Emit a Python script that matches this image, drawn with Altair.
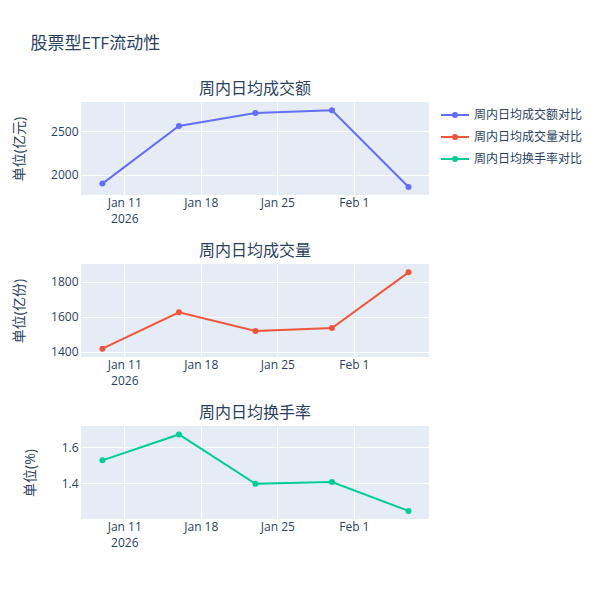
import altair as alt
import pandas as pd

FONT = "'Open Sans', 'Noto Sans CJK SC', sans-serif"
INK = "#2a3f5f"

dates = ["2026-01-09", "2026-01-16", "2026-01-23", "2026-01-30", "2026-02-06"]
amount = [1895, 2563, 2712, 2744, 1855]       # 亿元
volume = [1417, 1626, 1518, 1535, 1855]       # 亿份
turnover = [1.528, 1.672, 1.398, 1.408, 1.247]  # %

series = ["周内日均成交额对比", "周内日均成交量对比", "周内日均换手率对比"]
colors = ["#636efa", "#EF553B", "#00cc96"]
panel_titles = ["周内日均成交额", "周内日均成交量", "周内日均换手率"]
y_titles = ["单位(亿元)", "单位(亿份)", "单位(%)"]
y_ticks = [[2000, 2500], [1400, 1600, 1800], [1.4, 1.6]]
y_formats = ["d", "d", ".1f"]
y_domains = [[1763, 2840], [1369, 1903], [1.202, 1.719]]

x_ticks = [alt.DateTime(year=2026, month=1, date=11),
           alt.DateTime(year=2026, month=1, date=18),
           alt.DateTime(year=2026, month=1, date=25),
           alt.DateTime(year=2026, month=2, date=1)]
x_domain = [alt.DateTime(year=2026, month=1, date=7, hours=1),
            alt.DateTime(year=2026, month=2, date=7, hours=21)]

# path: short line + tiny circle, looks like plotly's line+marker legend item
LEGEND_SYMBOL = ("M-1,0L1,0M-0.143,0A0.143,0.143,0,1,0,0.143,0"
                 "A0.143,0.143,0,1,0,-0.143,0")


def panel(values, i):
    df = pd.DataFrame({
        "date": [d + "T00:00:00" for d in dates],
        "value": values,
        "series": series[i],
    })
    x = alt.X("date:T", title=None,
              scale=alt.Scale(domain=x_domain),
              axis=alt.Axis(values=x_ticks, grid=True, gridColor="white",
                            ticks=False, domain=False, labelPadding=2,
                            labelLineHeight=16, labelFontSize=12,
                            labelColor=INK, labelFont=FONT,
                            labelExpr="datum.index == 0 ? [timeFormat(datum.value, '%b %-d'), '2026'] : timeFormat(datum.value, '%b %-d')"))
    y = alt.Y("value:Q", title=y_titles[i],
              scale=alt.Scale(domain=y_domains[i], zero=False, nice=False),
              axis=alt.Axis(values=y_ticks[i], format=y_formats[i], grid=True,
                            gridColor="white", ticks=False, domain=False,
                            labelPadding=3, labelFontSize=12, labelColor=INK,
                            labelFont=FONT, titleFontSize=14, titleColor=INK,
                            titleFont=FONT, titleFontWeight="normal",
                            titlePadding=24))
    color = alt.Color("series:N", scale=alt.Scale(domain=series, range=colors),
                      legend=alt.Legend(title=None, symbolType=LEGEND_SYMBOL,
                                        symbolSize=784, symbolStrokeWidth=2,
                                        labelFontSize=12, labelColor=INK,
                                        labelFont=FONT, rowPadding=-4.5,
                                        orient="none", legendX=359, legendY=-2))
    base = alt.Chart(df).encode(x=x, y=y, color=color)
    line = base.mark_line(strokeWidth=2)
    dots = base.mark_point(filled=True, size=36, opacity=1)
    return (dots + line).properties(
        width=348, height=93,
        title=alt.TitleParams(panel_titles[i], fontSize=16, color=INK,
                              font=FONT, fontWeight="normal", offset=5),
    )


chart = alt.vconcat(
    panel(amount, 0), panel(volume, 1), panel(turnover, 2), spacing=19
).properties(
    title=alt.TitleParams("股票型ETF流动性", fontSize=17, color=INK, font=FONT,
                          fontWeight="normal", anchor="start", dx=18, offset=28),
    padding={"left": 4, "top": 27, "right": 5, "bottom": 5},
    background="white",
).configure_view(
    fill="#E5ECF6", stroke=None
)

chart.save("out.html", embed_options={"renderer": "svg", "actions": False})
